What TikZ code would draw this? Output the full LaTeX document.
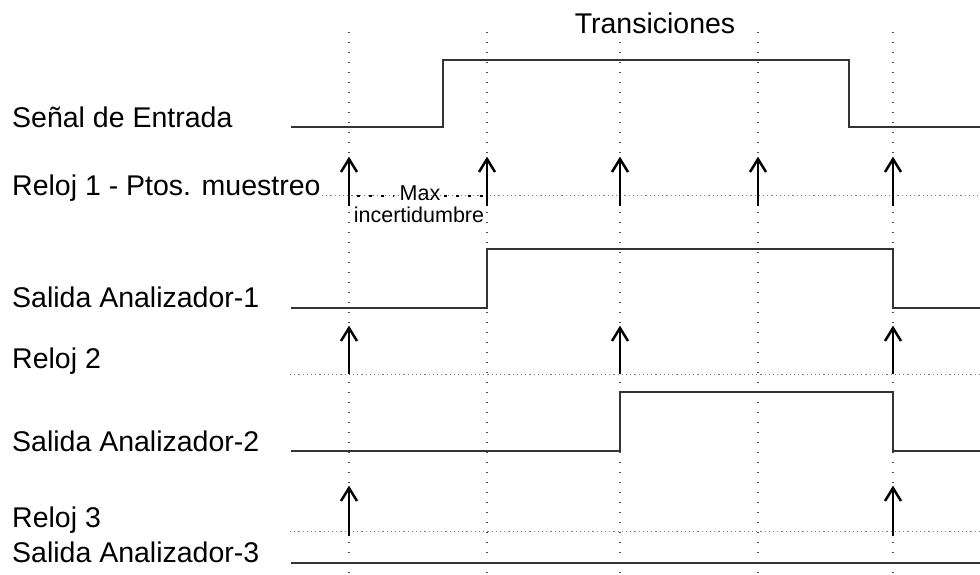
\documentclass[tikz,border=0pt]{standalone}
\usepackage{fontspec}
\setmainfont{Liberation Sans}

\begin{document}
\begin{tikzpicture}[x=1pt,y=-1pt,
  lbl/.style={anchor=base west, inner sep=0pt, font=\fontsize{28.5}{30}\selectfont},
  note/.style={anchor=base, inner sep=0pt, font=\fontsize{21.5}{22}\selectfont},
  wave/.style={line width=1.6pt, black!80, line join=miter},
  gridv/.style={black!70, line width=1.1pt, dash pattern=on 1.1pt off 8.9pt},
  gridh/.style={black!50, line width=1pt, dash pattern=on 1.2pt off 3pt},
  clk/.style={line width=2.5pt, line join=miter},
  gapdots/.style={line width=2.8pt, dash pattern=on 2.8pt off 9.2pt}
]
\useasboundingbox (0,0) rectangle (980,574);

% sampling instants (vertical guides)
\foreach \x in {349,487,620,758,893}
  \draw[gridv] (\x,32) -- (\x,574);

% clock base lines
\draw[gridh] (322,195) -- (980,195);
\draw[gridh] (290,374) -- (980,374);
\draw[gridh] (290,531) -- (980,531);

% title
\node[anchor=base, inner sep=0pt, font=\fontsize{28.5}{30}\selectfont] (title) at (655,33) {Transiciones};

% row labels
\node[lbl] (lin)  at (12,127) {Señal de Entrada};
\node[lbl] (lck1) at (12,195) {Reloj 1 - Ptos. muestreo};
\node[lbl] (lout1) at (12,307) {Salida Analizador-1};
\node[lbl] (lck2) at (12,368) {Reloj 2};
\node[lbl] (lout2) at (12,451) {Salida Analizador-2};
\node[lbl] (lck3) at (12,527) {Reloj 3};
\node[lbl] (lout3) at (12,562) {Salida Analizador-3};

% waveforms
\draw[wave] (291,127) -- (443,127) -- (443,60) -- (849,60) -- (849,127) -- (980,127);
\draw[wave] (291,308) -- (487,308) -- (487,249) -- (893,249) -- (893,308) -- (980,308);
\draw[wave] (291,451) -- (620,451) -- (620,392) -- (893,392) -- (893,451) -- (980,451);
\draw[wave] (291,563) -- (980,563);

% clock edges: shaft plus an open V head
\foreach \x in {349,487,620,758,893} {
  \coordinate (a1b\x) at (\x,206);
  \coordinate (a1t\x) at (\x,159);
  \draw[clk] (a1b\x) -- (a1t\x);
  \draw[clk] (a1t\x) ++(-8,13) -- (a1t\x) -- ++(8,13);
}
\foreach \x in {349,620,893} {
  \coordinate (a2b\x) at (\x,374);
  \coordinate (a2t\x) at (\x,328);
  \draw[clk] (a2b\x) -- (a2t\x);
  \draw[clk] (a2t\x) ++(-8,13) -- (a2t\x) -- ++(8,13);
}
\foreach \x in {349,893} {
  \coordinate (a3b\x) at (\x,536);
  \coordinate (a3t\x) at (\x,488);
  \draw[clk] (a3b\x) -- (a3t\x);
  \draw[clk] (a3t\x) ++(-8,13) -- (a3t\x) -- ++(8,13);
}

% maximum uncertainty between two sampling points
\node[note] (maxl) at (420,200) {Max};
\node[note] (incl) at (419,222) {incertidumbre};
\coordinate (g1a) at (357,196);
\coordinate (g1b) at (394,196);
\coordinate (g2a) at (444,196);
\coordinate (g2b) at (484,196);
\draw[gapdots] (g1a) -- (g1b);
\draw[gapdots] (g2a) -- (g2b);
\end{tikzpicture}
\end{document}
